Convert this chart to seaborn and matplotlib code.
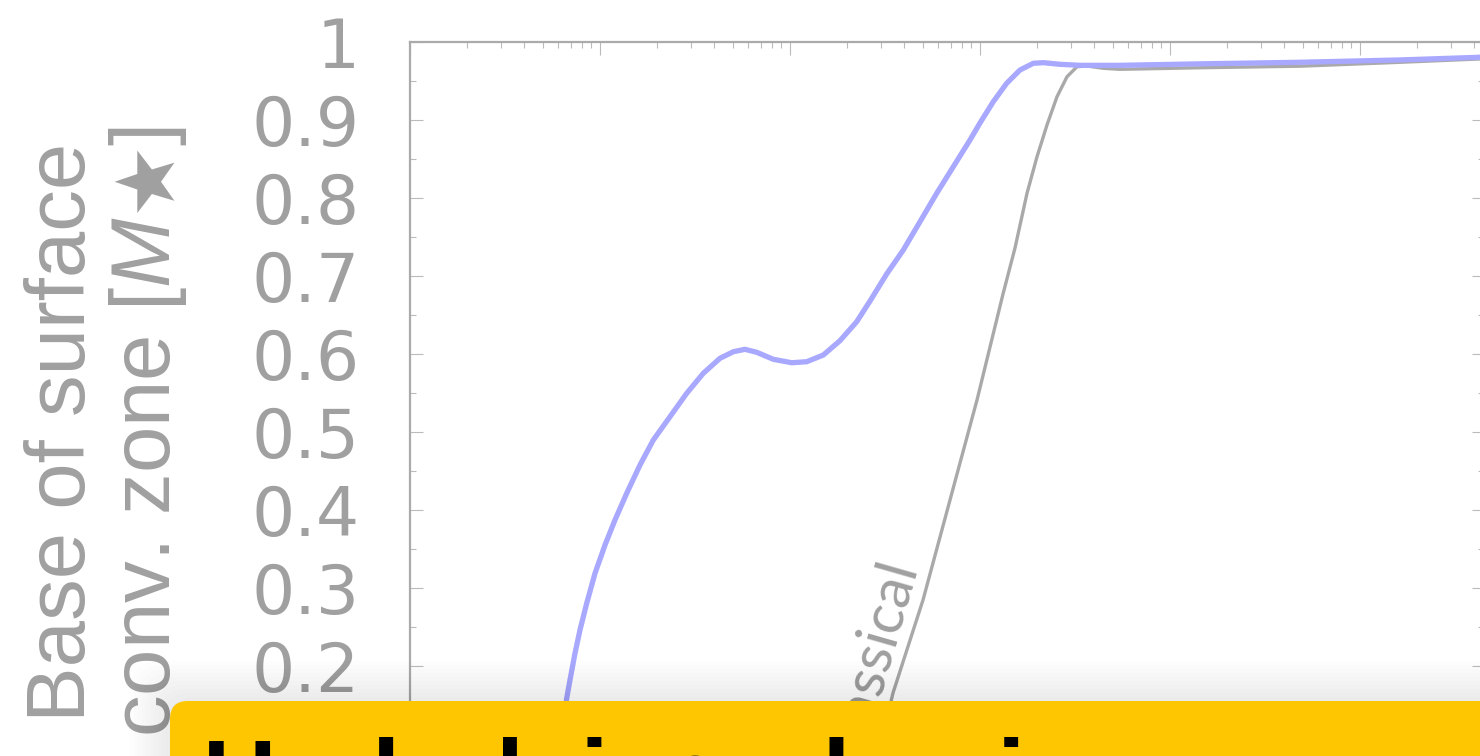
import numpy as np
import pandas as pd
import matplotlib.pyplot as plt
import seaborn as sns
from matplotlib.patches import FancyBboxPatch
from matplotlib.ticker import MultipleLocator, LogLocator, NullFormatter, FixedFormatter, FixedLocator

# log10(x) in decades from the left edge of the frame, and base of the surface convective zone [M*]
rotating_logx = [0.70, 0.77, 0.8247, 0.8421, 0.8684, 0.8947, 0.930, 0.9737, 1.0263, 1.0789, 1.1405, 1.2105,
                 1.2805, 1.3684, 1.4563, 1.5437, 1.6316, 1.7016, 1.7632, 1.8247, 1.9121, 2.0089, 2.0879,
                 2.1753, 2.2632, 2.3511, 2.4211, 2.5089, 2.5963, 2.6842, 2.7721, 2.8595, 2.9474, 3.0,
                 3.070, 3.1405, 3.2105, 3.2805, 3.3332, 3.4211, 3.5263, 3.7368, 4.158, 4.684, 5.211, 5.70]
rotating_mbase = [0.0, 0.06, 0.1586, 0.1821, 0.2163, 0.2462, 0.2804, 0.3188, 0.3551, 0.3872, 0.4214, 0.4577,
                  0.4897, 0.5196, 0.5496, 0.5753, 0.5945, 0.6029, 0.6060, 0.6022, 0.5932, 0.5888, 0.5901,
                  0.5987, 0.6171, 0.6414, 0.6679, 0.7026, 0.7333, 0.7696, 0.8060, 0.8401, 0.8744, 0.8962,
                  0.9235, 0.9471, 0.9641, 0.9727, 0.9735, 0.9714, 0.9701, 0.9701, 0.972, 0.974, 0.977, 0.981]

classical_logx = [2.30, 2.42, 2.5421, 2.70, 2.8421, 2.9842, 3.1211, 3.1842, 3.2474, 3.3000, 3.3526,
                  3.4053, 3.4579, 3.5105, 3.5632, 3.6489, 3.7368, 4.158, 4.684, 5.211, 5.70]
classical_mbase = [0.0, 0.04, 0.1654, 0.2846, 0.4128, 0.5410, 0.6769, 0.7359, 0.8060, 0.8529, 0.8936,
                   0.9299, 0.9555, 0.9683, 0.9692, 0.9663, 0.9650, 0.967, 0.969, 0.974, 0.979]

y_ticks = [0.0, 0.1, 0.2, 0.3, 0.4, 0.5, 0.6, 0.7, 0.8, 0.9, 1.0]
y_tick_labels = ["0", "0.1", "0.2", "0.3", "0.4", "0.5", "0.6", "0.7", "0.8", "0.9", "1"]

ylabel_text = "Base of surface\nconv. zone [$\\mathit{M}\\bigstar$]"
curve_label = "classical"
banner_text = "Underlying physics"

df_rot = pd.DataFrame({"x": np.power(10.0, rotating_logx), "m": rotating_mbase})
df_cla = pd.DataFrame({"x": np.power(10.0, classical_logx), "m": classical_mbase})

sns.set_style("white")
plt.rcParams["font.family"] = ["Liberation Sans", "DejaVu Sans"]
plt.rcParams["mathtext.fontset"] = "custom"
plt.rcParams["mathtext.it"] = "Liberation Sans:italic"
plt.rcParams["mathtext.rm"] = "Liberation Sans"

fig = plt.figure(figsize=(14.8, 7.56), dpi=100)
fig.patch.set_facecolor("white")

W, H = 1480.0, 756.0
ax = fig.add_axes([410 / W, 1 - 822 / H, 1074 / W, 780 / H])
ax.set_facecolor("white")

sns.lineplot(data=df_cla, x="x", y="m", ax=ax, color="#a9a9a9", linewidth=2.4,
             solid_joinstyle="round", solid_capstyle="round")
sns.lineplot(data=df_rot, x="x", y="m", ax=ax, color="#a8a8ff", linewidth=3.8,
             solid_joinstyle="round", solid_capstyle="round")

ax.set_xscale("log")
ax.set_xlim(1.0, 10 ** (1074 / 190.0))
ax.set_ylim(0, 1)
ax.xaxis.set_major_locator(LogLocator(base=10, numticks=20))
ax.xaxis.set_minor_locator(LogLocator(base=10, subs=np.arange(2, 10), numticks=50))
ax.xaxis.set_minor_formatter(NullFormatter())
ax.yaxis.set_major_locator(FixedLocator(y_ticks))
ax.yaxis.set_major_formatter(FixedFormatter(y_tick_labels))
ax.yaxis.set_minor_locator(MultipleLocator(0.05))

ax.tick_params(which="both", direction="in", top=True, right=True, bottom=True, left=True,
               color="#bbbbbb", width=0.8)
ax.tick_params(which="major", length=9)
ax.tick_params(which="minor", length=4.5)
ax.tick_params(axis="x", labelbottom=False, labeltop=False)
ax.tick_params(axis="y", labelsize=49, labelcolor="#a0a0a0", pad=36)
for lab in ax.get_yticklabels():
    lab.set_family("DejaVu Sans")

for s in ax.spines.values():
    s.set_color("#aaaaaa")
    s.set_linewidth(1.6)

ax.set_xlabel("")
ax.set_ylabel(ylabel_text, fontsize=60, color="#a0a0a0", linespacing=1.07)
ax.yaxis.set_label_coords(-0.206, 0.5)

ax.text(10 ** 2.668, 0.328, curve_label, rotation=74, rotation_mode="anchor", ha="right", va="baseline",
        fontsize=42, color="#a0a0a0", family="Lato")

# soft drop shadow around the banner, then the banner itself
bx, by_top = 170 / W, (756 - 701) / H
for k in range(10):
    grow = (k + 1) * 4.0
    fig.patches.append(FancyBboxPatch((bx - grow / W, -0.3), 1.5, 0.3 + by_top + grow / H,
                                      boxstyle="round,pad=0,rounding_size=0.02", mutation_aspect=2.0,
                                      transform=fig.transFigure, facecolor="black", alpha=0.006,
                                      edgecolor="none", zorder=9))
banner = FancyBboxPatch((bx, -0.3), 1.5, 0.3 + by_top,
                        boxstyle="round,pad=0,rounding_size=0.012", mutation_aspect=2.0,
                        transform=fig.transFigure, facecolor="#fec600", edgecolor="none", zorder=10)
fig.patches.append(banner)
fig.text(203 / W, (756 - 810) / H, banner_text, fontsize=73, fontweight="bold", color="black",
         ha="left", va="baseline", zorder=11)

fig.savefig("out.png", dpi=100)
